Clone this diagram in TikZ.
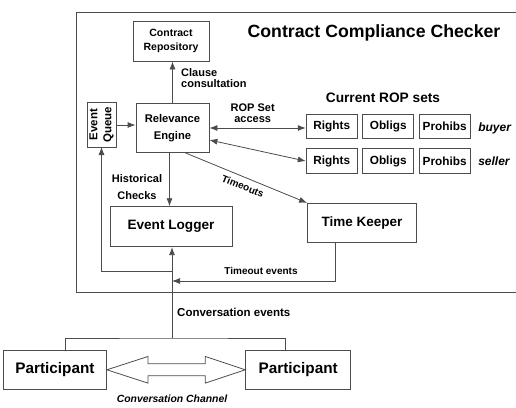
\documentclass[tikz,border=0pt]{standalone}
\usepackage{fontspec}
\setmainfont{Liberation Sans}
\usetikzlibrary{positioning,calc,arrows.meta}

\newcommand{\fsz}[1]{\fontsize{#1}{#1}\selectfont}

\begin{document}
\begin{tikzpicture}[x=1pt,y=-1pt,
	blk/.style={draw=black!70,line width=0.8pt,fill=white,inner sep=1pt,align=center,font=\bfseries\fsz{11}},
	rop/.style={blk,minimum width=51pt,minimum height=24.5pt,font=\bfseries\fsz{11.8}},
	lbl/.style={inner sep=0pt,align=center,font=\bfseries\fsz{11}},
	wire/.style={draw=black!70,line width=0.8pt},
	arr/.style={wire,-{Latex[length=8pt,width=6pt]}},
	darr/.style={wire,{Latex[length=8pt,width=6pt]}-{Latex[length=8pt,width=6pt]}}]
	\useasboundingbox (0,0) rectangle (516,407);
	\clip (0,0) rectangle (516,407);

	% checker frame and title
	\draw[wire] (76,12) rectangle (530,292);
	\node[lbl,font=\bfseries\fsz{17.7}] (title) at (374,33) {Contract Compliance Checker};

	% main boxes
	\node[blk,minimum width=76pt,minimum height=40pt,font=\bfseries\fsz{10.5}] (repo) at (171,41) {Contract\\[3pt]Repository};
	\node[blk,minimum width=73pt,minimum height=49pt,font=\bfseries\fsz{11.2}] (re) at (172.5,128) {Relevance\\[5.4pt]Engine};
	\node[blk,rotate=90,minimum width=45pt,minimum height=29pt,inner sep=0pt,font=\bfseries\fsz{11.5}] (eq) at (101.5,124.5) {Event\\[2.5pt]Queue};
	\node[blk,minimum width=122pt,minimum height=40pt,font=\bfseries\fsz{13.6}] (el) at (171,226.7) {Event Logger};
	\node[blk,minimum width=109pt,minimum height=39pt,font=\bfseries\fsz{13.5}] (tk) at (362,222.8) {Time Keeper};

	% ROP sets
	\node[lbl,font=\bfseries\fsz{13.7}] (cur) at (383,98) {Current ROP sets};
	\node[rop] (rb) at (331.7,126.5) {Rights};
	\node[rop,right=4.7pt of rb] (ob) {Obligs};
	\node[rop,right=4.7pt of ob] (pb) {Prohibs};
	\node[rop,below=9.3pt of rb] (rs) {Rights};
	\node[rop,right=4.7pt of rs] (os) {Obligs};
	\node[rop,right=4.7pt of os] (ps) {Prohibs};
	\node[lbl,anchor=west,font=\bfseries\itshape\fsz{12}] (buyer) at ($(pb.east)+(7.5,1.5)$) {buyer};
	\node[lbl,anchor=west,font=\bfseries\itshape\fsz{12}] (seller) at ($(ps.east)+(7.5,0)$) {seller};

	% participants
	\node[blk,minimum width=103pt,minimum height=39pt,font=\bfseries\fsz{15.3}] (pl) at (55,369.8) {Participant};
	\node[blk,minimum width=105pt,minimum height=39pt,font=\bfseries\fsz{15.3}] (pr) at (298.2,369.8) {Participant};

	\coordinate (hub) at (172,338);
	\coordinate (tin) at (172,281);
	\coordinate (qin) at (172,271);

	% connectors
	\draw[arr] (re.north) -- (re.north |- repo.south);
	\node[lbl,anchor=west,align=left] (cc) at (181,78) {Clause\\[-0.7pt]consultation};
	\draw[arr] (116,125) -- (re.west |- 0,125);
	\draw[darr] (re.east) -- (re.east -| rb.west);
	\node[lbl] (acc) at (252.7,113.3) {ROP Set\\access};
	\draw[darr] ($(re.east)+(0,12)$) -- (rs.west);
	\draw[arr] ($(re.south)+(-3,0)$) -- ($(re.south |- el.north)+(-3,0)$);
	\node[lbl] (hc) at (137,187) {Historical\\[6.4pt]Checks};
	\draw[arr] ($(re.south east)+(-24,0)$) -- node[midway,below=5pt,sloped,lbl,font=\bfseries\fsz{10}] {Timeouts} (tk.north west);
	\draw[arr] ($(tk.south)+(-27,0)$) |- (tin);
	\node[lbl,font=\bfseries\fsz{10}] (tev) at (261,271) {Timeout events};
	\draw[arr] (hub) -- (hub |- el.south);
	\draw[arr] (qin) -| (101.5,147);
	\node[lbl,anchor=west,font=\bfseries\fsz{11.5}] (cev) at (177,312) {Conversation events};
	\draw[wire] ($(pl.north)+(10.7,0)$) |- (hub) -| ($(pr.north)+(-13.2,0)$);

	% conversation channel
	\draw[wire] (pl.east) -- ++(41,-13.3) -- ++(0,7.3) -- ($(pr.west)+(-40,-6)$) -- ++(0,-7.3)
		-- (pr.west) -- ++(-40,13.3) -- ++(0,-7.3) -- ($(pl.east)+(41,6)$) -- ++(0,7.3) -- cycle;
	\node[lbl,font=\bfseries\itshape\fsz{10.4}] (ch) at (172,399) {Conversation Channel};
\end{tikzpicture}
\end{document}
